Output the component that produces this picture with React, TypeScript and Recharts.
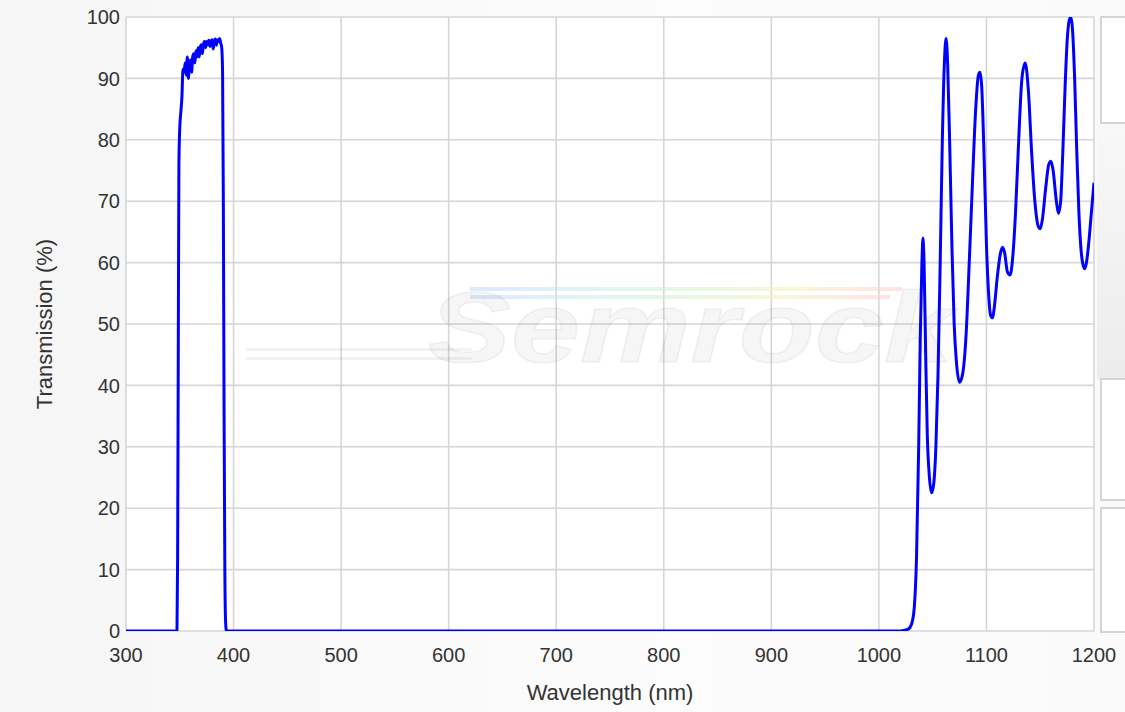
import React from 'react';
import { LineChart, Line, XAxis, YAxis, CartesianGrid, Customized } from 'recharts';

// Wavelength samples (nm) and measured transmission (%) of the filter
const wavelengthNm = [
  300, 346, 347.4, 348, 348.6, 349.2, 350, 351, 352, 353, 354, 355, 356, 357, 358, 359, 360,
  361, 362, 363, 364, 365, 366, 367, 368, 369, 370, 371, 372, 373, 374, 375, 376, 377, 378,
  379, 380, 381, 382, 383, 384, 385, 386, 387, 388, 389, 389.8, 390.5, 391.2, 391.9, 392.6,
  393.4, 400, 1020,
  1026, 1029, 1031, 1033, 1035, 1037, 1038.5, 1040, 1041, 1042, 1043.5, 1045, 1047, 1049,
  1051, 1053, 1055, 1057, 1059, 1061, 1062.5, 1064, 1066, 1068, 1070, 1072, 1075, 1078,
  1081, 1084, 1087, 1090, 1092.5, 1094, 1095.5, 1098, 1100, 1102, 1104, 1105.5, 1107.5,
  1110, 1113, 1115, 1117, 1119.5, 1122, 1124.5, 1127, 1130, 1133, 1136, 1139, 1142, 1145,
  1148, 1150, 1152, 1155, 1158, 1160, 1162, 1165, 1167, 1169, 1171, 1173, 1175, 1177,
  1178.5, 1180, 1182, 1184, 1186, 1188, 1190, 1191.5, 1193, 1195, 1197, 1200,
];

const transmissionPct = [
  0, 0, 0, 12, 45, 76, 82, 84.5, 87, 91.5, 91, 92.5, 90.5, 93.5, 90, 92.5, 93,
  91, 93.5, 94, 92.5, 94.5, 93.5, 95, 93.5, 95, 95.5, 94, 95.5, 96, 95, 96, 95.5, 96.2, 95.2,
  96, 96.3, 94.8, 96, 96.4, 95.4, 96.3, 96, 96.5, 95.8, 95, 91, 70, 35, 10, 1.5,
  0, 0, 0,
  0.2, 0.6, 1.5, 4, 12, 30, 48, 60, 64, 60, 45, 32, 25, 22.5,
  24, 30, 42, 60, 80, 93, 96.5, 92, 78, 62, 50, 44, 40.5, 42,
  48, 60, 73, 85, 90.5, 91, 89, 76, 63, 55, 51.3, 51, 53,
  57.5, 61.5, 62.5, 61.5, 58.5, 58, 61, 68, 80, 90, 92.5, 88, 78, 70,
  66, 65.5, 67, 72, 76, 76.5, 75, 70, 68, 70, 78, 88, 96, 99.5,
  100, 98, 90, 78, 68, 62, 59.5, 59, 60, 63, 67, 73,
];

const xTicks = [300, 400, 500, 600, 700, 800, 900, 1000, 1100, 1200];
const yTicks = [0, 10, 20, 30, 40, 50, 60, 70, 80, 90, 100];

const spectrum = wavelengthNm.map((nm, i) => ({ nm, t: transmissionPct[i] }));

const FONT = '"Liberation Sans", Arial, Helvetica, sans-serif';

// Faint brand mark printed across the plot area
const Watermark = () => (
  <g pointerEvents="none">
    <defs>
      <linearGradient id="wm-rainbow" x1="0" y1="0" x2="1" y2="0">
        <stop offset="0%" stopColor="#c8d8ff" />
        <stop offset="30%" stopColor="#c8f0f0" />
        <stop offset="55%" stopColor="#d8f4c8" />
        <stop offset="75%" stopColor="#f8f0c0" />
        <stop offset="100%" stopColor="#ffd0d0" />
      </linearGradient>
    </defs>
    <rect x={470} y={287} width={432} height={4} fill="url(#wm-rainbow)" opacity={0.6} />
    <rect x={470} y={295} width={420} height={4} fill="url(#wm-rainbow)" opacity={0.6} />
    <rect x={246} y={348} width={226} height={3} fill="#000" opacity={0.05} />
    <rect x={246} y={357} width={226} height={3} fill="#000" opacity={0.05} />
    <text
      x={428}
      y={362}
      fontFamily={FONT}
      fontSize={100}
      fontWeight="bold"
      fontStyle="italic"
      textLength={525}
      lengthAdjust="spacingAndGlyphs"
      fill="#000"
      fillOpacity={0.035}
      stroke="#000"
      strokeOpacity={0.05}
      strokeWidth={1.5}
    >
      Semrock
    </text>
  </g>
);

export default function App() {
  return (
    <div
      style={{
        position: 'absolute',
        left: 0,
        top: 0,
        width: 1125,
        height: 712,
        overflow: 'hidden',
        background: 'linear-gradient(to right, #f6f6f6, #fcfcfc 60%, #fafafa)',
      }}
    >
      {/* side panel boxes */}
      <div style={{ position: 'absolute', left: 1097, top: 125, width: 40, height: 255, background: 'linear-gradient(to bottom, #f8f8f8, #ececec)' }} />
      <div style={{ position: 'absolute', left: 1100, top: 16, width: 40, height: 108, background: '#fff', border: '2px solid #d4d4d4', boxSizing: 'border-box' }} />
      <div style={{ position: 'absolute', left: 1100, top: 378, width: 40, height: 123, background: '#fff', border: '2px solid #d4d4d4', boxSizing: 'border-box' }} />
      <div style={{ position: 'absolute', left: 1100, top: 507, width: 40, height: 126, background: '#fff', border: '2px solid #d4d4d4', boxSizing: 'border-box' }} />
      <div style={{ position: 'absolute', left: 0, top: 0 }}>
        <LineChart
          width={1125}
          height={712}
          data={spectrum}
          margin={{ top: 17, right: 31, bottom: 51, left: 66 }}
        >
          <CartesianGrid stroke="#d6d6d6" strokeWidth={1.6} fill="#ffffff" fillOpacity={1} />
          <XAxis
            dataKey="nm"
            type="number"
            domain={[300, 1200]}
            ticks={xTicks}
            allowDataOverflow
            axisLine={false}
            tickLine={false}
            tickSize={0}
            tickMargin={17}
            height={30}
            interval={0}
            tick={{ fontSize: 20, fill: '#333', fontFamily: FONT }}
            label={{
              value: 'Wavelength (nm)',
              position: 'bottom',
              offset: 23,
              fontSize: 22,
              fill: '#333',
              fontFamily: FONT,
            }}
          />
          <YAxis
            type="number"
            domain={[0, 100]}
            ticks={yTicks}
            allowDataOverflow
            axisLine={false}
            tickLine={false}
            tickSize={0}
            tickMargin={6}
            width={60}
            interval={0}
            tick={{ fontSize: 20, fill: '#333', fontFamily: FONT }}
            label={{
              value: 'Transmission (%)',
              angle: -90,
              position: 'left',
              offset: 22,
              fontSize: 22,
              fill: '#333',
              fontFamily: FONT,
              style: { textAnchor: 'middle' },
            }}
          />
          <Customized component={Watermark} />
          <Line
            dataKey="t"
            type="monotone"
            stroke="#0000ff"
            strokeWidth={3}
            dot={false}
            activeDot={false}
            isAnimationActive={false}
          />
        </LineChart>
      </div>
    </div>
  );
}
